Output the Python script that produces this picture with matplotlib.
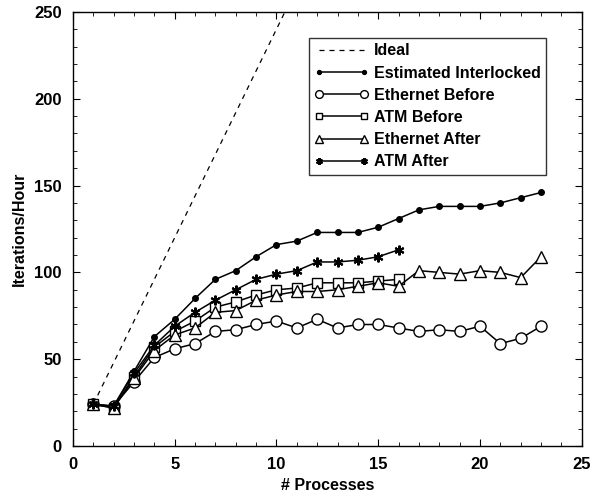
import matplotlib
matplotlib.use("Agg")
import matplotlib.pyplot as plt
from matplotlib.ticker import MultipleLocator

# dados
procs = list(range(1, 24))
procs_atm = list(range(1, 17))

ideal_x = [1, 11]
ideal_y = [24, 264]

estimado = [24, 23, 43, 63, 73, 85, 96, 101, 109, 116, 118, 123, 123, 123, 126,
            131, 136, 138, 138, 138, 140, 143, 146]
eth_antes = [24, 23, 37, 51, 56, 59, 66, 67, 70, 72, 68, 73, 68, 70, 70,
             68, 66, 67, 66, 69, 59, 62, 69]
atm_antes = [24, 22, 40, 57, 66, 72, 80, 83, 87, 90, 91, 94, 94, 94, 95, 96]
eth_depois = [24, 22, 39, 55, 64, 68, 77, 78, 84, 87, 89, 89, 90, 92, 94,
              92, 101, 100, 99, 101, 100, 97, 109]
atm_depois = [24, 23, 42, 58, 69, 77, 84, 90, 96, 99, 101, 106, 106, 107, 109, 113]

plt.rcParams['font.family'] = ['Liberation Sans', 'DejaVu Sans']
plt.rcParams['font.weight'] = 'bold'

fig = plt.figure(figsize=(5.93, 4.94), dpi=100)
ax = fig.add_axes([0.123, 0.097, 0.858, 0.879])

ax.plot(ideal_x, ideal_y, color='black', linestyle=(0, (4, 4)), lw=0.9, label='Ideal')
ax.plot(procs, estimado, color='black', lw=1.1, marker='o', ms=4,
        markerfacecolor='black', label='Estimated Interlocked')
ax.plot(procs, eth_antes, color='black', lw=1.1, marker='o', ms=8,
        markerfacecolor='white', markeredgewidth=1.0, label='Ethernet Before')
ax.plot(procs_atm, atm_antes, color='black', lw=1.1, marker='s', ms=7,
        markerfacecolor='white', markeredgewidth=1.0, label='ATM Before')
ax.plot(procs, eth_depois, color='black', lw=1.1, marker='^', ms=8,
        markerfacecolor='white', markeredgewidth=1.0, label='Ethernet After')
ax.plot(procs_atm, atm_depois, color='black', lw=1.1, marker=(6, 2, 0), ms=7,
        markeredgewidth=1.5, label='ATM After')

ax.set_xlim(0, 25)
ax.set_ylim(0, 250)
ax.xaxis.set_major_locator(MultipleLocator(5))
ax.xaxis.set_minor_locator(MultipleLocator(1))
ax.yaxis.set_major_locator(MultipleLocator(50))
ax.yaxis.set_minor_locator(MultipleLocator(10))
ax.tick_params(which='both', direction='in', top=True, right=True, labelsize=12)
ax.tick_params(which='major', length=5, pad=8)
ax.tick_params(which='minor', length=3)
for s in ax.spines.values():
    s.set_linewidth(1.0)

ax.set_xlabel('# Processes', fontsize=11.5, fontweight='bold', labelpad=4)
ax.set_ylabel('Iterations/Hour', fontsize=11.5, fontweight='bold', labelpad=5)

leg = ax.legend(loc='upper right', bbox_to_anchor=(0.93, 0.94), numpoints=2,
                handlelength=3.4, handletextpad=0.3, fontsize=11.5,
                frameon=True, fancybox=False, borderpad=0.35, labelspacing=0.45,
                borderaxespad=0, markerscale=0.7)
leg.get_frame().set_edgecolor('black')
leg.get_frame().set_linewidth(1.0)

fig.savefig('out.png', dpi=100)
